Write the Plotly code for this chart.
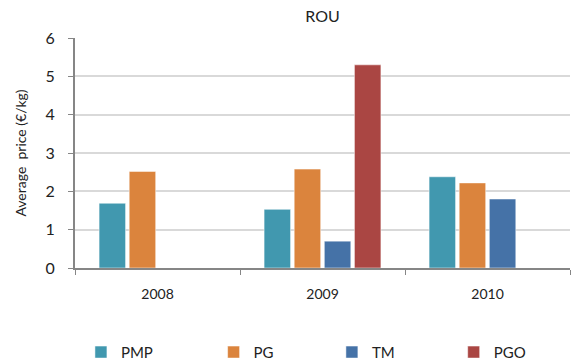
import plotly.graph_objects as go

years = ['2008', '2009', '2010']
pmp = [1.69, 1.53, 2.38]
pg = [2.52, 2.58, 2.22]
tm = [None, 0.70, 1.80]
pgo = [None, 5.30, None]

series = [('PMP', pmp, '#4198AF'), ('PG', pg, '#DB843D'),
          ('TM', tm, '#4572A7'), ('PGO', pgo, '#AA4643')]
legend_x = [0.012, 0.280, 0.519, 0.765]

fig = go.Figure()
lay = {}
for i, (name, vals, col) in enumerate(series):
    lg = 'legend' if i == 0 else 'legend%d' % (i + 1)
    fig.add_trace(go.Bar(x=years, y=vals, name=name, marker_color=col, legend=lg,
                         marker_line=dict(color='rgba(255,255,255,0.5)', width=1)))
    lay[lg] = dict(orientation='h', x=legend_x[i], yref='container', y=0.006,
                   xanchor='left', yanchor='bottom', font=dict(size=15),
                   bgcolor='rgba(0,0,0,0)')

fig.update_layout(
    width=582, height=363,
    margin=dict(l=65, r=20, t=30, b=103),
    paper_bgcolor='white', plot_bgcolor='white',
    font=dict(family='Lato, Liberation Sans, sans-serif', size=14, color='#222'),
    title=dict(text='ROU', x=0.5, xref='paper', y=0.978, yanchor='middle',
               font=dict(size=16, color='#222')),
    barmode='group', bargap=0.27, bargroupgap=0.12,
    showlegend=True,
    **lay
)
fig.update_xaxes(type='category', showline=True, linecolor='#868686', linewidth=2,
                 ticks='outside', tickson='boundaries', tickcolor='#868686',
                 ticklen=5, tickwidth=1, showgrid=False, ticklabelstandoff=12,
                 tickfont=dict(size=14))
fig.update_yaxes(range=[0, 6], dtick=1, showline=True, linecolor='#868686', linewidth=2,
                 ticks='outside', tickcolor='#868686', ticklen=5,
                 gridcolor='#D9D9D9', gridwidth=2, zeroline=False, ticklabelstandoff=10,
                 title=dict(text='Average  price (€/kg)', standoff=16, font=dict(size=14)),
                 tickfont=dict(size=16))

fig.write_html("out.html")
